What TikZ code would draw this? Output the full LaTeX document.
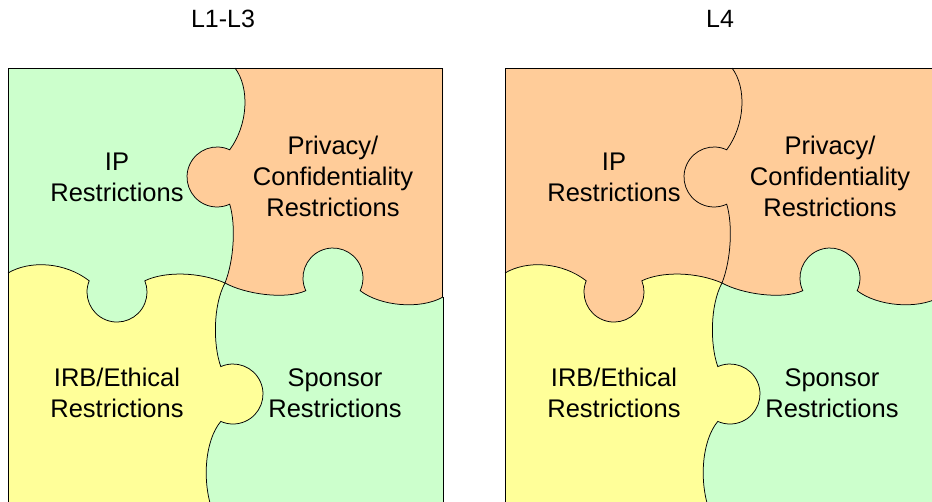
\documentclass[tikz,border=0pt]{standalone}
\usepackage{fontspec}
\setmainfont{Liberation Sans}
\definecolor{pzgreen}{HTML}{CCFFCC}
\definecolor{pzorange}{HTML}{FFCC99}
\definecolor{pzyellow}{HTML}{FFFF99}

% dividing cuts of a puzzle panel (units: 1pt, y pointing down)
\newcommand\vcut{(235,68) .. controls (250,88) and (248,125) .. (229.7,149.8)
  arc[start angle=-65,end angle=-295,radius=30]
  .. controls (236,225) and (234,260) .. (225,283)
  .. controls (213,305) and (213,345) .. (220.8,366.6)
  arc[start angle=-114,end angle=114,radius=30]
  .. controls (205,440) and (200,485) .. (216,520)}
\newcommand\hcut{(8,273) .. controls (30,260) and (65,262) .. (89.2,280.8)
  arc[start angle=202,end angle=-22,radius=30]
  .. controls (165,271) and (200,272) .. (225,283)
  .. controls (245,294) and (285,300) .. (305.8,290.7)
  arc[start angle=155,end angle=385,radius=30]
  .. controls (380,306) and (420,310) .. (443,297)}

% #1 shift, #2 top-left, #3 top-right, #4 bottom-left, #5 bottom-right, #6 name suffix
\newcommand\puzzlepanel[6]{%
\begin{scope}[shift={(#1,0)}]
  \begin{scope}
    \clip (8,68) rectangle (443,520);
    \begin{scope}
      \clip \vcut -- (0,520) -- (0,60) -- cycle;
      \begin{scope}
        \clip \hcut -- (450,60) -- (0,60) -- cycle;
        \fill[#2] (0,60) rectangle (450,520);
      \end{scope}
      \begin{scope}
        \clip \hcut -- (450,520) -- (0,520) -- cycle;
        \fill[#4] (0,60) rectangle (450,520);
      \end{scope}
    \end{scope}
    \begin{scope}
      \clip \vcut -- (450,520) -- (450,60) -- cycle;
      \begin{scope}
        \clip \hcut -- (450,60) -- (0,60) -- cycle;
        \fill[#3] (0,60) rectangle (450,520);
      \end{scope}
      \begin{scope}
        \clip \hcut -- (450,520) -- (0,520) -- cycle;
        \fill[#5] (0,60) rectangle (450,520);
      \end{scope}
    \end{scope}
  \end{scope}
  \draw[cut] \vcut;
  \draw[cut] \hcut;
  \draw[cut] (8,520) -- (8,68) -- (442,68) -- (442,297);
  \draw[cut] (443,297) -- (443,520);
  \node[lbl] (ip#6) at (117,177) {IP\\Restrictions};
  \node[lbl] (priv#6) at (333,176) {Privacy/\\Confidentiality\\Restrictions};
  \node[lbl] (irb#6) at (117,393) {IRB/Ethical\\Restrictions};
  \node[lbl] (spon#6) at (335,393) {Sponsor\\Restrictions};
\end{scope}}

\begin{document}
\begin{tikzpicture}[x=1pt,y=-1pt,
  cut/.style={draw=black,line width=0.75pt},
  lbl/.style={align=center,inner sep=0pt,font=\fontsize{25.5}{31}\selectfont},
  ttl/.style={inner sep=0pt,font=\fontsize{25}{30}\selectfont}]
\useasboundingbox (0,0) rectangle (932,501);
\clip (0,0) rectangle (932,501);
\node[ttl] (tleft) at (223,19) {L1-L3};
\node[ttl] (tright) at (720,19) {L4};
\puzzlepanel{0}{pzgreen}{pzorange}{pzyellow}{pzgreen}{a}
\puzzlepanel{497}{pzorange}{pzorange}{pzyellow}{pzgreen}{b}
\end{tikzpicture}
\end{document}
